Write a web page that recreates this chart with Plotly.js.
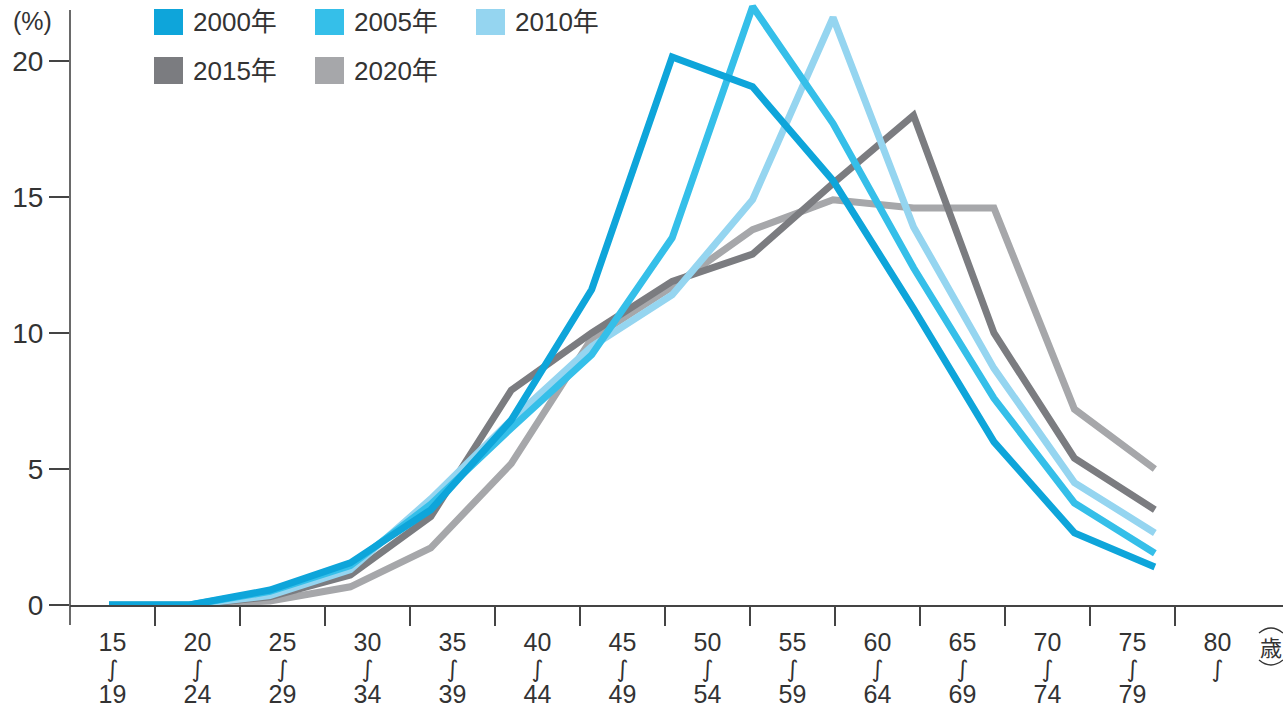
<!DOCTYPE html>
<html>
<head>
<meta charset="utf-8">
<script src="https://cdn.plot.ly/plotly-3.0.1.min.js"></script>
<style>html,body{margin:0;padding:0;background:#fff;}#chart{width:1283px;height:710px;}</style>
</head>
<body>
<div id="chart"></div>
<script>
// ---- data ----
const ageGroups = ['15-19','20-24','25-29','30-34','35-39','40-44','45-49','50-54','55-59','60-64','65-69','70-74','75-79','80-'];
const tickTop = ['15','20','25','30','35','40','45','50','55','60','65','70','75','80'];
const tickBottom = ['19','24','29','34','39','44','49','54','59','64','69','74','79',''];
const years = ['2000年','2005年','2010年','2015年','2020年'];
const v2000 = [0, 0, 0.55, 1.55, 3.5, 6.8, 11.6, 20.15, 19.05, 15.6, 10.9, 6.0, 2.65, 1.4];
const v2005 = [0, 0, 0.5, 1.45, 3.7, 6.5, 9.2, 13.5, 22.0, 17.7, 12.4, 7.6, 3.75, 1.9];
const v2010 = [0, 0, 0.35, 1.3, 3.9, 6.8, 9.5, 11.4, 14.9, 21.6, 13.9, 8.7, 4.5, 2.65];
const v2015 = [0, 0, 0.3, 1.1, 3.25, 7.9, 10.0, 11.9, 12.9, 15.5, 18.0, 10.0, 5.4, 3.5];
const v2020 = [0, 0, 0.15, 0.67, 2.1, 5.2, 9.8, 11.7, 13.8, 14.9, 14.6, 14.6, 7.2, 5.0];
const series = [v2000, v2005, v2010, v2015, v2020];
const colors = ['#0ea5da', '#35bfe9', '#95d5f0', '#7b7c80', '#a6a7aa'];
const yTicks = [0, 5, 10, 15, 20];

// ---- helpers for pixel placement of non-data decorations ----
const L = 70, W = 1213, H = 605;
const px2x = p => (p - L) / W;
const px2y = p => (H - p) / H;

const NUM_FONT = 'Liberation Sans Narrow, Liberation Sans, DejaVu Sans, Noto Sans CJK JP, sans-serif';
const TXT = '#333333';
const WAVE = '<span style="font-family:DejaVu Sans;font-size:23px">∫</span>';

const tickText = tickTop.map((t, i) =>
  '<span style="font-size:25px">' + t + '</span><br>' + WAVE +
  (tickBottom[i] ? '<br><span style="font-size:25px">' + tickBottom[i] + '</span>' : ''));

// draw order: 2020 at the bottom, 2000 on top
const traces = [];
for (let k = series.length - 1; k >= 0; k--) {
  traces.push({
    type: 'scatter', mode: 'lines', name: years[k],
    x: ageGroups, y: series[k], xaxis: 'x', yaxis: 'y',
    line: {color: colors[k], width: 7}, showlegend: false, hoverinfo: 'x+y+name'
  });
}
// carrier traces for the label axis and the boundary-tick axis
traces.push({type: 'scatter', mode: 'lines', x: ageGroups, y: ageGroups.map(() => null),
  xaxis: 'x2', yaxis: 'y', showlegend: false, hoverinfo: 'skip'});
traces.push({type: 'scatter', mode: 'lines', x: [0, 1], y: [null, null],
  xaxis: 'x3', yaxis: 'y', showlegend: false, hoverinfo: 'skip'});

// legend (manual square swatches)
const legCols = [154, 315, 476];
const legRows = [[9, 35], [57, 84]];
const shapes = [];
const annotations = [];
years.forEach((yr, k) => {
  const col = k < 3 ? k : k - 3;
  const row = k < 3 ? 0 : 1;
  const x0 = legCols[col], x1 = x0 + 29;
  const [y0, y1] = legRows[row];
  shapes.push({type: 'rect', xref: 'paper', yref: 'paper',
    x0: px2x(x0), x1: px2x(x1), y0: px2y(y1), y1: px2y(y0),
    fillcolor: colors[k], line: {width: 0}});
  annotations.push({xref: 'paper', yref: 'paper', x: px2x(x1 + 8), y: px2y((y0 + y1) / 2),
    xanchor: 'left', yanchor: 'middle', showarrow: false, text: yr,
    font: {family: 'Liberation Sans, Noto Sans CJK JP, sans-serif', size: 26, color: TXT}});
});

// y axis line (extends below the x axis)
shapes.push({type: 'line', xref: 'paper', yref: 'paper', x0: 0, x1: 0,
  y0: px2y(625), y1: px2y(10), line: {color: '#444', width: 1.6}});

// unit labels
annotations.push({xref: 'paper', yref: 'paper', x: px2x(32), y: px2y(21),
  xanchor: 'center', yanchor: 'middle', showarrow: false, text: '(%)',
  font: {family: NUM_FONT, size: 25, color: TXT}});
annotations.push({xref: 'paper', yref: 'paper', x: px2x(1271), y: px2y(646),
  xanchor: 'center', yanchor: 'middle', showarrow: false, text: '歳',
  font: {family: 'Noto Sans CJK JP, sans-serif', size: 22, color: TXT}});
shapes.push({type: 'path', xref: 'paper', yref: 'paper',
  path: 'M' + px2x(1259) + ',' + px2y(633) + ' Q' + px2x(1271) + ',' + px2y(623) + ' ' + px2x(1283) + ',' + px2y(633),
  line: {color: TXT, width: 1.3}});
shapes.push({type: 'path', xref: 'paper', yref: 'paper',
  path: 'M' + px2x(1259) + ',' + px2y(660) + ' Q' + px2x(1271) + ',' + px2y(670) + ' ' + px2x(1283) + ',' + px2y(660),
  line: {color: TXT, width: 1.3}});

const labelRange = [-0.5, (1283 - 112.5) / 85];
const dataRange = [-0.485, (1283 - 109) / 80.45];

const layout = {
  width: 1283, height: 710,
  margin: {l: L, r: 0, t: 0, b: 105, pad: 0},
  paper_bgcolor: '#ffffff', plot_bgcolor: '#ffffff',
  showlegend: false,
  xaxis: {type: 'category', categoryorder: 'array', categoryarray: ageGroups,
    range: dataRange, visible: false, fixedrange: true},
  xaxis2: {type: 'category', categoryorder: 'array', categoryarray: ageGroups,
    overlaying: 'x', anchor: 'y', side: 'bottom', range: labelRange,
    tickmode: 'array', tickvals: ageGroups, ticktext: tickText,
    ticks: 'outside', ticklen: 20, tickcolor: 'rgba(0,0,0,0)',
    tickfont: {family: NUM_FONT, size: 20, color: TXT},
    showline: true, linecolor: '#444', linewidth: 1.6, showgrid: false, zeroline: false, fixedrange: true},
  xaxis3: {type: 'linear', overlaying: 'x', anchor: 'y', side: 'bottom', range: labelRange,
    tickmode: 'array', tickvals: ageGroups.slice(1).map((_, i) => i + 0.5),
    ticks: 'outside', ticklen: 20, tickwidth: 1.6, tickcolor: '#444',
    showticklabels: false, showline: false, showgrid: false, zeroline: false, fixedrange: true},
  yaxis: {range: [0, H / 27.2], tickmode: 'array', tickvals: yTicks, ticktext: yTicks.map(String),
    ticks: 'outside', ticklen: 20, tickwidth: 1.6, tickcolor: '#444',
    tickfont: {family: NUM_FONT, size: 28, color: TXT},
    showline: false, showgrid: false, zeroline: false, fixedrange: true},
  shapes: shapes,
  annotations: annotations
};

Plotly.newPlot('chart', traces, layout, {displayModeBar: false, staticPlot: true});
</script>
</body>
</html>
